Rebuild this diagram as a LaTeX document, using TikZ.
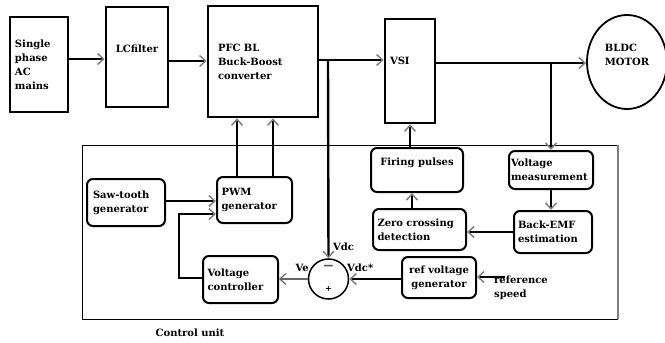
\documentclass[tikz,border=0pt]{standalone}
\usepackage{fontspec}
\setmainfont{DejaVu Serif}
\usetikzlibrary{arrows.meta,shapes.geometric}
\tikzset{
  bigbox/.style={draw, line width=2.6pt, inner sep=3pt, font=\bfseries\fontsize{10}{14}\selectfont},
  cbox/.style={draw, line width=2pt, rounded corners=6pt, inner sep=2pt, font=\bfseries\fontsize{10}{14}\selectfont},
  conn/.style={line width=2.4pt, -{Straight Barb[length=6pt,width=11pt,line width=1.5pt,color=gray]}},
  thinconn/.style={line width=1.2pt, draw=gray!80!black, -{Straight Barb[length=6pt,width=11pt,line width=1.2pt]}},
  lbl/.style={font=\bfseries\fontsize{10}{14}\selectfont, inner sep=0pt},
}
\begin{document}
\begin{tikzpicture}[x=1pt,y=-1pt]
\useasboundingbox (0,0) rectangle (665,343);
% control unit frame
\draw[line width=0.9pt] (82,145) -- (618,145);
\draw[line width=0.9pt] (82,145) -- (82,319) -- (618,319);
\draw[line width=1.4pt, gray] (618,145) -- (618,319);
\node[lbl] (cu) at (190,333) {Control unit};

% top row
\node[bigbox, minimum width=58pt, minimum height=95pt, text width=48pt, align=left] (ac) at (39,64.5) {Single\\phase\\AC\\mains};
\node[bigbox, minimum width=62pt, minimum height=100pt, inner ysep=0pt, text height=45pt, text depth=55pt, align=center] (lc) at (137,57) {LCfilter};
\node[bigbox, minimum width=110pt, minimum height=111pt, text width=90pt, align=left] (pfc) at (263,61.5) {PFC BL\\Buck-Boost\\converter};
\node[bigbox, minimum width=50pt, minimum height=104pt, inner ysep=0pt, text height=45pt, text depth=59pt, text width=40pt, align=left] (vsi) at (410,71) {VSI};
\node[draw, ellipse, line width=1.8pt, minimum width=80pt, minimum height=94pt, inner sep=0pt, align=left, font=\bfseries\fontsize{10}{14}\selectfont] (motor) at (627,62) {BLDC\\MOTOR\\\mbox{}};

% control boxes
\node[cbox, minimum width=78pt, minimum height=47pt, text width=66pt, align=left] (saw) at (126,202.5) {Saw-tooth\\generator};
\node[cbox, minimum width=75pt, minimum height=46pt, text width=66pt, align=left] (pwm) at (254.5,200) {PWM\\generator};
\node[cbox, minimum width=75pt, minimum height=47pt, text width=66pt, align=left] (vc) at (240.5,279.5) {Voltage\\controller};
\node[draw, circle, line width=1.5pt, minimum size=40pt, inner sep=0pt] (sum) at (328.5,279) {};
\node[lbl, text=gray!70!black, font=\bfseries\fontsize{14}{14}\selectfont] (minus) at (328.5,268) {−};
\node[lbl, font=\bfseries\fontsize{8}{10}\selectfont] (plus) at (328.5,289) {+};
\node[cbox, minimum width=92pt, minimum height=44pt, inner ysep=0pt, text height=17pt, text depth=27pt] (fp) at (417,170) {Firing pulses};
\node[cbox, minimum width=84pt, minimum height=38pt, text width=80pt, align=left, inner xsep=1pt] (vm) at (551,170) {Voltage\\measurement};
\node[cbox, minimum width=93pt, minimum height=41pt, text width=84pt, align=left] (zc) at (419.5,229.5) {Zero crossing\\detection};
\node[cbox, minimum width=78pt, minimum height=42pt, text width=70pt, align=left] (bemf) at (553,232) {Back-EMF\\estimation};
\node[cbox, minimum width=74pt, minimum height=41pt, text width=68pt, align=center] (ref) at (439,277.5) {ref voltage\\generator};

% coordinates
\coordinate (j1) at (328,60);
\coordinate (j2) at (551,63);
\coordinate (rs) at (505,277);
\coordinate (fb) at (179,278);
\coordinate (fb2) at (179,214);

% top row connectors
\draw[conn] (ac.east|-0,59) -- (lc.west|-0,59);
\draw[conn] (lc.east|-0,61) -- (pfc.west|-0,61);
\draw[line width=2.4pt] (pfc.east|-j1) -- (j1);
\draw[conn] (j1) -- (vsi.west|-j1);
\draw[line width=2.4pt] (vsi.east|-j2) -- (j2);
\draw[conn] (j2) -- (motor.west|-j2);

% vertical connectors
\draw[conn] (j1) -- (sum.north);
\draw[conn] (j2) -- (vm.north);
\draw[conn] (vm.south-|j2) -- (bemf.north-|j2);
\draw[conn] (bemf.west|-0,232) -- (zc.east|-0,232);
\draw[conn] (zc.north-|412,0) -- (fp.south-|412,0);
\draw[conn] (fp.north-|410,0) -- (vsi.south-|410,0);
\draw[conn] (pwm.north-|237,0) -- (pfc.south-|237,0);
\draw[conn] (pwm.north-|273,0) -- (pfc.south-|273,0);

% control loop
\draw[conn] (saw.east|-0,201) -- (pwm.west|-0,201);
\draw[conn] (vc.west|-fb) -- (fb) -- (fb2) -- (pwm.west|-fb2);
\draw[thinconn] (sum.west) -- (vc.east|-sum.west);
\draw[conn] (ref.west|-sum.east) -- (sum.east);
\draw[conn] (rs) -- (ref.east|-rs);

% labels
\node[lbl, anchor=west] (vdc) at (333,247) {Vdc};
\node[lbl, anchor=east] (ve) at (309,268) {Ve};
\node[lbl, anchor=west] (vdcs) at (347,268) {Vdc*};
\node[lbl, anchor=north west, align=left] (rsp) at (494,276) {reference\\speed};
\end{tikzpicture}
\end{document}
